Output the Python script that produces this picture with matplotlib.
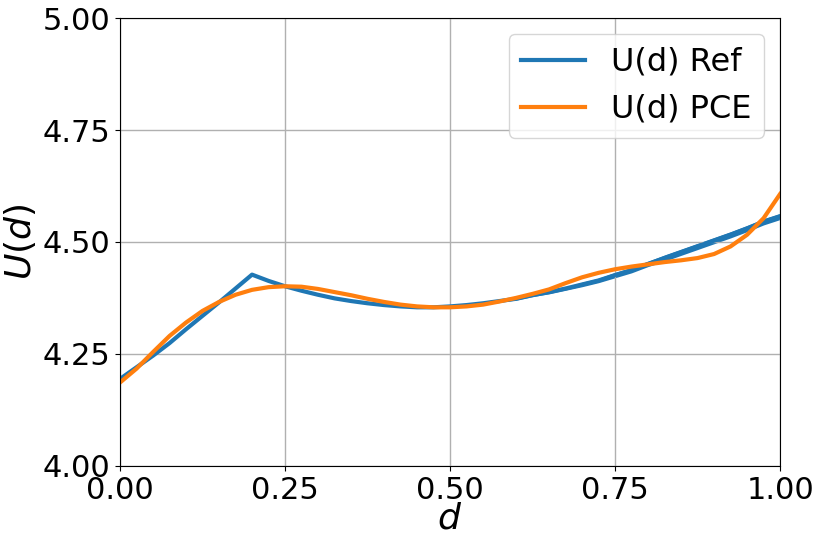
import numpy as np
import matplotlib.pyplot as plt

# design variable grid
d = np.array([0.0, 0.025, 0.05, 0.075, 0.1, 0.125, 0.15, 0.175, 0.2, 0.225,
              0.25, 0.275, 0.3, 0.325, 0.35, 0.375, 0.4, 0.425, 0.45, 0.475,
              0.5, 0.525, 0.55, 0.575, 0.6, 0.625, 0.65, 0.675, 0.7, 0.725,
              0.75, 0.775, 0.8, 0.825, 0.85, 0.875, 0.9, 0.925, 0.95, 0.975, 1.0])

# reference utility (noisy Monte Carlo estimate)
u_ref = np.array([4.194, 4.220, 4.246, 4.274, 4.305, 4.335, 4.365, 4.396, 4.427, 4.413,
                  4.401, 4.391, 4.382, 4.374, 4.368, 4.363, 4.359, 4.356, 4.354, 4.354,
                  4.356, 4.359, 4.363, 4.368, 4.373, 4.381, 4.388, 4.396, 4.405, 4.414,
                  4.426, 4.437, 4.451, 4.464, 4.477, 4.490, 4.503, 4.516, 4.530, 4.545, 4.557])
# spread of the noisy reference line
u_ref_spread = np.array([0.0, 0.0, 0.0, 0.0, 0.0, 0.0, 0.0, 0.0, 0.0, 0.0,
                         0.0, 0.0, 0.0, 0.0, 0.0, 0.0, 0.0, 0.0, 0.0, 0.0,
                         0.001, 0.001, 0.002, 0.002, 0.003, 0.003, 0.004, 0.004, 0.005, 0.005,
                         0.006, 0.006, 0.006, 0.007, 0.007, 0.007, 0.007, 0.007, 0.007, 0.007, 0.007])

# PCE surrogate
u_pce = np.array([4.186, 4.217, 4.254, 4.290, 4.320, 4.346, 4.366, 4.382, 4.393, 4.399,
                  4.401, 4.400, 4.395, 4.388, 4.381, 4.373, 4.366, 4.360, 4.356, 4.354,
                  4.354, 4.356, 4.360, 4.367, 4.375, 4.384, 4.394, 4.408, 4.421, 4.431,
                  4.439, 4.445, 4.450, 4.455, 4.459, 4.464, 4.473, 4.490, 4.516, 4.553, 4.607])

fig = plt.figure(figsize=(8.22, 5.48), dpi=100)
ax = fig.add_axes([0.146, 0.150, 0.803, 0.817])

ax.plot(d, u_ref, color='#1f77b4', linewidth=3, label='U(d) Ref')
ax.fill_between(d, u_ref - u_ref_spread, u_ref + u_ref_spread,
                color='#1f77b4', linewidth=0)
ax.plot(d, u_pce, color='#ff7f0e', linewidth=3, label='U(d) PCE')

ax.set_xlim(0, 1)
ax.set_ylim(4.0, 5.0)
ax.set_xticks([0, 0.25, 0.5, 0.75, 1.0])
ax.set_yticks([4.0, 4.25, 4.5, 4.75, 5.0])
ax.tick_params(labelsize=22)
ax.set_xlabel('$d$', fontsize=26, labelpad=-2)
ax.set_ylabel('$U(d)$', fontsize=26, labelpad=3)
ax.grid(True, color='#b0b0b0', linewidth=1)
ax.legend(loc='upper right', fontsize=23)

fig.savefig('out.png', dpi=100)
